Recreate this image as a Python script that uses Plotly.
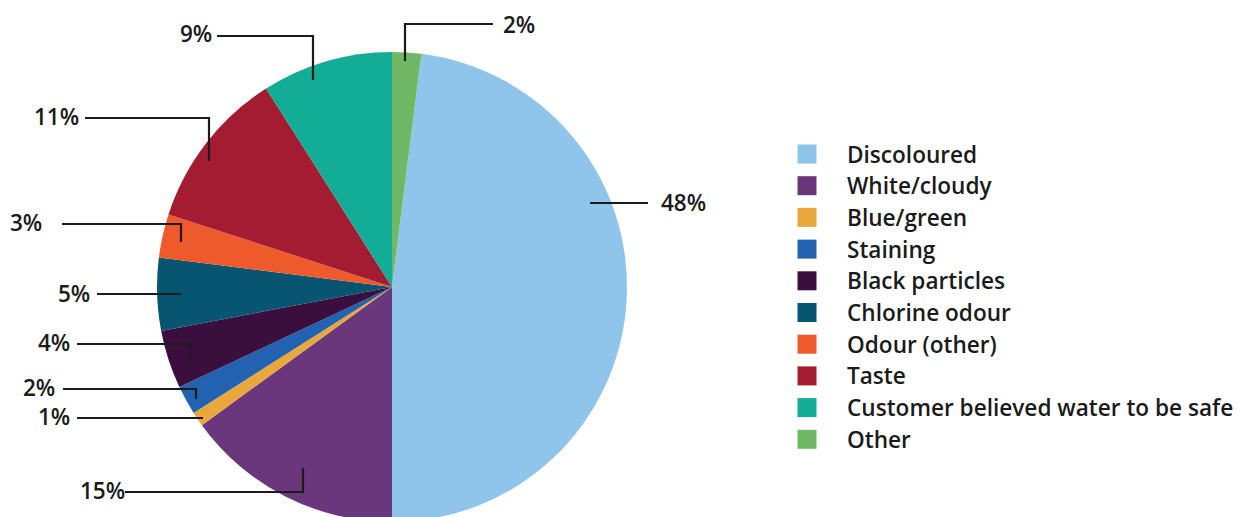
import plotly.graph_objects as go

# ---------------- data ----------------
categories = [
    "Discoloured", "White/cloudy", "Blue/green", "Staining", "Black particles",
    "Chlorine odour", "Odour (other)", "Taste",
    "Customer believed water to be safe", "Other",
]
shares = [48, 15, 1, 2, 4, 5, 3, 11, 9, 2]
colors = ["#8fc5ea", "#6a377c", "#eaa73b", "#2262b0", "#3a0f3d",
          "#075570", "#ef5a2c", "#a41c31", "#12ac97", "#70b865"]
pct_labels = [f"{v}%" for v in shares]

# ---------------- layout constants (pixels) ----------------
W, H = 1241, 522
CX, CY, R = 392, 287, 235
TXT = "#1b1b1b"
FONT = "Open Sans"

# leader-line paths (slice -> label) and label placement for each category
leaders = [
    ([(590, 203), (648, 203)], (659, 202), "left"),
    ([(303, 468), (303, 492), (125, 492)], (127, 490), "right"),
    ([(203, 418), (77, 418)], (72, 416), "right"),
    ([(196, 399), (196, 389), (63, 389)], (57, 387), "right"),
    ([(190, 362), (190, 344), (77, 344)], (72, 342), "right"),
    ([(181, 294), (97, 294)], (92, 293), "right"),
    ([(181, 242), (181, 224), (62, 224)], (44, 222), "right"),
    ([(209, 161), (209, 118), (85, 118)], (81, 116), "right"),
    ([(313, 80), (313, 36), (217, 36)], (214, 33), "right"),
    ([(405, 61), (405, 24), (493, 24)], (501, 24), "left"),
]

LEG_X, LEG_Y0, LEG_DY, LEG_TX = 807, 154, 31.7, 845

fig = go.Figure()

# rotate so that the last category ("Other") sits just right of 12 o'clock
rotation = 360.0 * shares[-1] / sum(shares)

fig.add_trace(go.Pie(
    labels=categories, values=shares, sort=False, direction="clockwise",
    rotation=rotation, marker=dict(colors=colors, line=dict(width=0)),
    textinfo="none", showlegend=False, hoverinfo="label+percent",
    domain=dict(x=[(CX - R) / W, (CX + R) / W], y=[0, 2 * R / H]),
))

# legend squares (manual legend)
fig.add_trace(go.Scatter(
    x=[LEG_X] * len(categories),
    y=[LEG_Y0 + i * LEG_DY for i in range(len(categories))],
    mode="markers", marker=dict(symbol="square", size=19, color=colors, line=dict(width=0)),
    showlegend=False, hoverinfo="skip", xaxis="x", yaxis="y",
))

shapes = []
annotations = []
for (pts, (tx, ty), side), lab in zip(leaders, pct_labels):
    path = "M " + " L ".join(f"{x},{y}" for x, y in pts)
    shapes.append(dict(type="path", path=path, xref="x", yref="y",
                       line=dict(color=TXT, width=2.2)))
    annotations.append(dict(x=tx, y=ty, xref="x", yref="y", text=lab, showarrow=False,
                            xanchor="left" if side == "left" else "right", yanchor="middle",
                            font=dict(family=FONT, size=22.5, color=TXT, weight=600)))

for i, c in enumerate(categories):
    annotations.append(dict(x=LEG_TX, y=LEG_Y0 + i * LEG_DY, xref="x", yref="y", text=c,
                            showarrow=False, xanchor="left", yanchor="middle",
                            font=dict(family=FONT, size=22.6, color=TXT, weight=600)))

fig.update_layout(
    width=W, height=H, margin=dict(l=0, r=0, t=0, b=0),
    paper_bgcolor="white", plot_bgcolor="rgba(0,0,0,0)",
    xaxis=dict(range=[0, W], visible=False, domain=[0, 1], fixedrange=True),
    yaxis=dict(range=[H, 0], visible=False, domain=[0, 1], fixedrange=True),
    shapes=shapes, annotations=annotations, showlegend=False,
)

fig.write_html("out.html", config={"displayModeBar": False},
               post_script="document.body.style.margin='0';document.body.style.overflow='hidden';")
